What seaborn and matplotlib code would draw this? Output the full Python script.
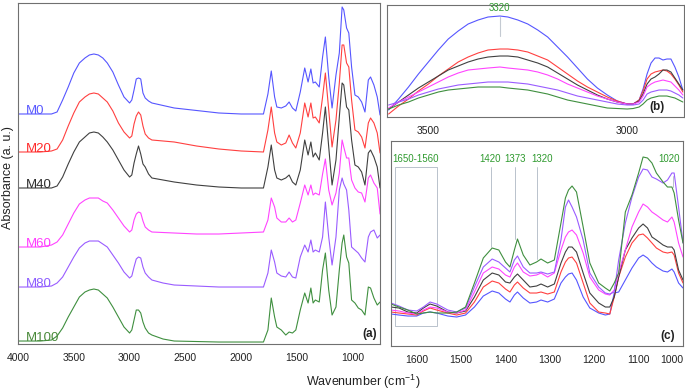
import matplotlib
matplotlib.use("Agg")
import matplotlib.pyplot as plt
from matplotlib.patches import Rectangle
from matplotlib.ticker import MultipleLocator
import pandas as pd
import seaborn as sns

SAMPLES = ["M0", "M20", "M40", "M60", "M80", "M100"]
LINE_COLORS = ["#5656ff", "#ff4040", "#404040", "#ff44ff", "#9a5cff", "#3f8f3f"]
LABEL_COLORS = ["#5a5aff", "#ff2a2a", "#2e2e2e", "#ff3cff", "#8d5cff", "#4a8a3a"]
NOTE_GREEN = "#2f9a2f"
GUIDE_GRAY = "#aeb8c4"

# ---- panel (a): stacked full spectra ----
WN_A = [4000, 3800, 3700, 3650, 3600, 3550, 3500, 3450, 3400, 3360,
        3320, 3280, 3240, 3200, 3150, 3100, 3050, 3000, 2980, 2960,
        2940, 2920, 2900, 2880, 2860, 2830, 2800, 2700, 2600, 2400,
        2200, 2000, 1800,
        1760, 1730, 1700, 1680, 1640, 1600, 1570, 1540, 1510, 1470,
        1430, 1400, 1375, 1355, 1335, 1300, 1270, 1245, 1215, 1185,
        1150, 1120, 1095, 1080, 1055, 1035, 1010, 980, 950, 920,
        890, 860, 840, 810, 780, 755]
M0_A = [2.30, 2.30, 2.30, 2.32, 2.44, 2.57, 2.71, 2.81, 2.86, 2.89,
        2.90, 2.89, 2.86, 2.81, 2.72, 2.59, 2.47, 2.41, 2.44, 2.54,
        2.65, 2.66, 2.65, 2.51, 2.46, 2.43, 2.41, 2.385, 2.36, 2.335,
        2.31, 2.30, 2.30,
        2.50, 2.73, 2.47, 2.37, 2.36, 2.38, 2.42, 2.36, 2.33, 2.52,
        2.76, 2.62, 2.75, 2.61, 2.62, 2.57, 2.87, 3.07, 2.67, 2.36,
        2.69, 2.91, 3.37, 3.34, 3.16, 3.11, 2.77, 2.49, 2.47, 2.42,
        2.32, 2.64, 2.67, 2.59, 2.47, 2.29]
M20_A = [1.92, 1.92, 1.93, 1.95, 2.04, 2.18, 2.31, 2.42, 2.47, 2.50,
         2.51, 2.50, 2.46, 2.42, 2.33, 2.21, 2.12, 2.06, 2.08, 2.20,
         2.28, 2.32, 2.29, 2.18, 2.10, 2.06, 2.04, 2.03, 2.02, 1.98,
         1.95, 1.93, 1.92,
         2.14, 2.37, 2.11, 2.02, 1.99, 2.01, 2.09, 2.01, 1.96, 2.11,
         2.41, 2.27, 2.41, 2.26, 2.27, 2.21, 2.47, 2.71, 2.34, 1.97,
         2.24, 2.61, 2.99, 2.99, 2.81, 2.77, 2.44, 2.14, 2.12, 2.07,
         1.96, 2.21, 2.26, 2.21, 2.11, 1.91]
M40_A = [1.56, 1.56, 1.56, 1.58, 1.67, 1.80, 1.92, 2.02, 2.07, 2.11,
         2.12, 2.11, 2.07, 2.02, 1.94, 1.84, 1.74, 1.67, 1.69, 1.81,
         1.90, 1.98, 1.90, 1.80, 1.77, 1.70, 1.66, 1.64, 1.62, 1.59,
         1.57, 1.56, 1.56,
         1.77, 1.99, 1.74, 1.66, 1.64, 1.66, 1.69, 1.62, 1.59, 1.74,
         2.04, 1.89, 2.02, 1.87, 1.91, 1.84, 2.11, 2.37, 1.97, 1.59,
         1.84, 2.27, 2.61, 2.59, 2.37, 2.34, 2.04, 1.79, 1.77, 1.72,
         1.59, 1.91, 1.94, 1.87, 1.77, 1.56]
M60_A = [0.97, 0.97, 0.99, 1.02, 1.09, 1.20, 1.31, 1.40, 1.44, 1.46,
         1.46, 1.46, 1.43, 1.41, 1.34, 1.26, 1.18, 1.12, 1.14, 1.24,
         1.30, 1.32, 1.31, 1.23, 1.17, 1.14, 1.12, 1.115, 1.11, 1.10,
         1.10, 1.11, 1.12,
         1.24, 1.46, 1.37, 1.26, 1.22, 1.22, 1.26, 1.22, 1.24, 1.41,
         1.59, 1.49, 1.59, 1.49, 1.51, 1.49, 1.70, 1.85, 1.54, 1.39,
         1.51, 1.71, 2.04, 1.97, 1.86, 1.86, 1.64, 1.56, 1.52, 1.51,
         1.42, 1.66, 1.69, 1.61, 1.56, 1.30]
M80_A = [0.57, 0.57, 0.58, 0.61, 0.67, 0.77, 0.87, 0.96, 1.01, 1.03,
         1.03, 1.03, 1.00, 0.97, 0.89, 0.81, 0.72, 0.66, 0.68, 0.77,
         0.85, 0.87, 0.86, 0.77, 0.71, 0.67, 0.64, 0.61, 0.59, 0.58,
         0.57, 0.57, 0.57,
         0.71, 0.94, 0.82, 0.71, 0.68, 0.67, 0.72, 0.67, 0.66, 0.87,
         0.99, 0.92, 1.04, 0.92, 0.94, 0.92, 1.07, 1.42, 1.07, 0.79,
         1.07, 1.54, 1.66, 1.60, 1.54, 1.34, 0.97, 0.94, 0.91, 0.86,
         0.82, 1.07, 1.12, 1.14, 1.06, 1.09]
M100_A = [0.03, 0.03, 0.04, 0.08, 0.16, 0.27, 0.37, 0.47, 0.52, 0.54,
          0.55, 0.54, 0.50, 0.46, 0.37, 0.27, 0.17, 0.11, 0.14, 0.24,
          0.34, 0.34, 0.31, 0.22, 0.16, 0.11, 0.09, 0.05, 0.03, 0.025,
          0.02, 0.02, 0.02,
          0.14, 0.46, 0.27, 0.17, 0.14, 0.09, 0.12, 0.11, 0.14, 0.34,
          0.51, 0.41, 0.56, 0.41, 0.44, 0.42, 0.74, 0.91, 0.54, 0.29,
          0.37, 0.74, 1.01, 1.09, 0.87, 0.81, 0.44, 0.41, 0.36, 0.34,
          0.29, 0.57, 0.56, 0.46, 0.39, 0.42]

# ---- panel (b): O-H / C-H stretching region ----
WN_B = [3600, 3575, 3550, 3525, 3500, 3475, 3450, 3425, 3400, 3375,
        3350, 3320, 3300, 3275, 3250, 3225, 3200, 3175, 3150, 3125,
        3100, 3075, 3050, 3025, 3000, 2985, 2970, 2960, 2950, 2940,
        2930, 2920, 2910, 2900, 2890, 2880, 2870, 2860]
M0_B = [0.07, 0.18, 0.30, 0.43, 0.55, 0.67, 0.78, 0.86, 0.93, 0.97,
        1.00, 1.01, 1.00, 0.97, 0.93, 0.87, 0.80, 0.70, 0.60, 0.49,
        0.38, 0.29, 0.22, 0.16, 0.13, 0.13, 0.17, 0.28, 0.43, 0.54,
        0.59, 0.59, 0.57, 0.58, 0.58, 0.50, 0.40, 0.27]
M20_B = [0.03, 0.11, 0.18, 0.26, 0.33, 0.41, 0.48, 0.55, 0.60, 0.64,
         0.67, 0.68, 0.68, 0.67, 0.65, 0.61, 0.57, 0.50, 0.43, 0.36,
         0.30, 0.25, 0.20, 0.16, 0.13, 0.13, 0.17, 0.26, 0.38, 0.43,
         0.45, 0.46, 0.47, 0.46, 0.43, 0.38, 0.32, 0.25]
M40_B = [0.08, 0.15, 0.22, 0.29, 0.35, 0.41, 0.47, 0.51, 0.55, 0.58,
         0.60, 0.61, 0.61, 0.60, 0.57, 0.54, 0.50, 0.44, 0.38, 0.32,
         0.27, 0.22, 0.18, 0.15, 0.13, 0.13, 0.16, 0.23, 0.33, 0.38,
         0.40, 0.43, 0.47, 0.47, 0.45, 0.39, 0.33, 0.27]
M60_B = [0.09, 0.15, 0.20, 0.25, 0.30, 0.35, 0.40, 0.44, 0.47, 0.48,
         0.49, 0.50, 0.49, 0.48, 0.47, 0.45, 0.42, 0.38, 0.33, 0.29,
         0.25, 0.21, 0.18, 0.15, 0.13, 0.13, 0.15, 0.21, 0.30, 0.33,
         0.35, 0.36, 0.37, 0.36, 0.35, 0.31, 0.27, 0.22]
M80_B = [0.12, 0.15, 0.18, 0.22, 0.25, 0.28, 0.30, 0.32, 0.33, 0.34,
         0.35, 0.35, 0.35, 0.34, 0.33, 0.31, 0.29, 0.27, 0.24, 0.21,
         0.19, 0.17, 0.15, 0.13, 0.12, 0.12, 0.13, 0.17, 0.23, 0.25,
         0.26, 0.27, 0.27, 0.27, 0.26, 0.24, 0.22, 0.19]
M100_B = [0.08, 0.12, 0.15, 0.19, 0.22, 0.25, 0.27, 0.28, 0.29, 0.30,
          0.30, 0.30, 0.29, 0.28, 0.27, 0.25, 0.23, 0.20, 0.17, 0.15,
          0.13, 0.11, 0.09, 0.085, 0.08, 0.085, 0.10, 0.13, 0.17, 0.19,
          0.20, 0.21, 0.21, 0.21, 0.20, 0.19, 0.17, 0.15]

# ---- panel (c): fingerprint region ----
WN_C = [1658, 1640, 1620, 1600, 1585, 1570, 1555, 1530, 1510, 1490,
        1470, 1450, 1430, 1415, 1400, 1390, 1380, 1373, 1360, 1345,
        1330, 1320, 1305, 1290, 1275, 1265, 1258, 1250, 1240, 1225,
        1210, 1190, 1175, 1165, 1155, 1145, 1130, 1115, 1100, 1090,
        1080, 1070, 1060, 1045, 1035, 1025, 1020, 1010, 1000]
M0_C = [0.32, 0.31, 0.30, 0.30, 0.33, 0.34, 0.33, 0.30, 0.29, 0.31,
        0.39, 0.50, 0.55, 0.53, 0.47, 0.44, 0.51, 0.54, 0.48, 0.43,
        0.44, 0.46, 0.44, 0.47, 0.63, 0.69, 0.72, 0.73, 0.66, 0.49,
        0.38, 0.33, 0.31, 0.32, 0.53, 0.54, 0.66, 0.78, 0.88, 0.91,
        0.88, 0.83, 0.79, 0.75, 0.74, 0.77, 0.74, 0.63, 0.58]
M20_C = [0.34, 0.33, 0.32, 0.31, 0.35, 0.38, 0.36, 0.33, 0.31, 0.33,
         0.44, 0.59, 0.65, 0.63, 0.57, 0.54, 0.61, 0.64, 0.58, 0.53,
         0.53, 0.54, 0.52, 0.54, 0.74, 0.84, 0.88, 0.89, 0.83, 0.63,
         0.43, 0.34, 0.33, 0.32, 0.49, 0.69, 0.89, 1.03, 1.11, 1.12,
         1.08, 1.03, 0.98, 0.94, 0.93, 0.94, 0.91, 0.73, 0.63]
M40_C = [0.39, 0.38, 0.34, 0.33, 0.38, 0.42, 0.40, 0.34, 0.33, 0.35,
         0.49, 0.66, 0.73, 0.71, 0.64, 0.63, 0.69, 0.72, 0.66, 0.59,
         0.60, 0.62, 0.59, 0.62, 0.83, 0.94, 0.99, 0.99, 0.94, 0.73,
         0.53, 0.43, 0.39, 0.39, 0.49, 0.69, 0.96, 1.08, 1.18, 1.22,
         1.18, 1.09, 1.06, 1.01, 0.99, 0.99, 0.96, 0.76, 0.66]
M60_C = [0.36, 0.35, 0.33, 0.32, 0.36, 0.39, 0.38, 0.34, 0.33, 0.36,
         0.54, 0.73, 0.79, 0.77, 0.71, 0.69, 0.79, 0.83, 0.74, 0.70,
         0.71, 0.73, 0.69, 0.73, 0.96, 1.09, 1.14, 1.16, 1.11, 0.93,
         0.69, 0.56, 0.52, 0.51, 0.56, 0.73, 0.96, 1.19, 1.34, 1.42,
         1.39, 1.34, 1.31, 1.26, 1.24, 1.29, 1.24, 1.03, 0.89]
M80_C = [0.43, 0.40, 0.36, 0.35, 0.39, 0.44, 0.42, 0.36, 0.34, 0.38,
         0.59, 0.79, 0.87, 0.84, 0.78, 0.74, 0.86, 0.90, 0.79, 0.73,
         0.73, 0.74, 0.72, 0.74, 1.06, 1.39, 1.46, 1.39, 1.29, 1.06,
         0.73, 0.59, 0.53, 0.52, 0.54, 0.86, 1.23, 1.49, 1.69, 1.77,
         1.76, 1.69, 1.67, 1.63, 1.66, 1.73, 1.73, 1.39, 1.03]
M100_C = [0.42, 0.39, 0.36, 0.32, 0.33, 0.34, 0.33, 0.33, 0.34, 0.39,
          0.63, 0.88, 0.98, 0.96, 0.84, 0.79, 0.96, 1.07, 0.91, 0.81,
          0.84, 0.87, 0.83, 0.86, 1.23, 1.48, 1.56, 1.60, 1.54, 1.19,
          0.83, 0.63, 0.58, 0.55, 0.63, 0.73, 1.34, 1.51, 1.73, 1.89,
          1.88, 1.83, 1.73, 1.64, 1.59, 1.59, 1.53, 1.26, 1.03]


def long_frame(wn, series):
    parts = [pd.DataFrame({"wn": wn, "absorbance": vals, "sample": name})
             for name, vals in zip(SAMPLES, series)]
    return pd.concat(parts, ignore_index=True)


def draw_spectra(ax, df):
    sns.lineplot(data=df, x="wn", y="absorbance", hue="sample",
                 hue_order=SAMPLES, palette=dict(zip(SAMPLES, LINE_COLORS)),
                 estimator=None, sort=False, lw=0.8, legend=False, ax=ax)
    ax.set_xlabel("")
    ax.set_ylabel("")
    ax.set_yticks([])
    for sp in ax.spines.values():
        sp.set_color("#707070")
        sp.set_linewidth(0.8)
    ax.tick_params(axis="x", which="both", direction="out", colors="#555555",
                   labelcolor="#222222", labelsize=7.5, pad=3, width=0.6)
    ax.tick_params(axis="x", which="major", length=3.5)
    ax.tick_params(axis="x", which="minor", length=2.5)


sns.set_theme(style="white")
plt.rcParams["font.family"] = ["Liberation Sans", "DejaVu Sans"]
plt.rcParams["mathtext.default"] = "regular"

fig = plt.figure(figsize=(6.85, 3.92), dpi=100)
ax_a = fig.add_axes([0.0263, 0.1224, 0.5285, 0.870])
ax_b = fig.add_axes([0.565, 0.7015, 0.4336, 0.2865])
ax_c = fig.add_axes([0.5708, 0.1173, 0.4263, 0.5230])

# panel (a)
series_a = [M0_A, M20_A, M40_A, M60_A, M80_A, M100_A]
draw_spectra(ax_a, long_frame(WN_A, series_a))
ax_a.set_xlim(4000, 755)
ax_a.set_ylim(0, 3.41)
ax_a.xaxis.set_major_locator(MultipleLocator(500))
ax_a.xaxis.set_minor_locator(MultipleLocator(250))
for name, vals, col in zip(SAMPLES, series_a, LABEL_COLORS):
    ax_a.text(3928, vals[0], name, color=col, fontsize=9.5, ha="left",
              va="baseline")
ax_a.text(0.992, 0.012, "(a)", transform=ax_a.transAxes, ha="right",
          va="bottom", fontsize=8.5, fontweight="bold", color="#222222")

# panel (b)
series_b = [M0_B, M20_B, M40_B, M60_B, M80_B, M100_B]
draw_spectra(ax_b, long_frame(WN_B, series_b))
ax_b.set_xlim(3604, 2857)
ax_b.set_ylim(0, 1.123)
ax_b.xaxis.set_major_locator(MultipleLocator(500))
ax_b.xaxis.set_minor_locator(MultipleLocator(250))
ax_b.plot([3320, 3320], [0.81, 1.00], color="#c4cad2", lw=0.8)
ax_b.text(3322, 1.09, "3320", color=NOTE_GREEN, fontsize=7, ha="center",
          va="center")
ax_b.text(0.936, 0.036, "(b)", transform=ax_b.transAxes, ha="right",
          va="bottom", fontsize=8.5, fontweight="bold", color="#222222")

# panel (c)
series_c = [M0_C, M20_C, M40_C, M60_C, M80_C, M100_C]
draw_spectra(ax_c, long_frame(WN_C, series_c))
ax_c.set_xlim(1658, 1000)
ax_c.set_ylim(0, 2.05)
ax_c.xaxis.set_major_locator(MultipleLocator(100))
ax_c.xaxis.set_minor_locator(MultipleLocator(50))
ax_c.add_patch(Rectangle((1555, 0.20), 95, 1.59, fill=False,
                         edgecolor=GUIDE_GRAY, lw=0.6))
for wn_line, y_low, y_high in [(1432, 0.99, 1.79), (1378, 1.07, 1.79),
                               (1330, 0.87, 1.79), (1022, 1.59, 1.70)]:
    ax_c.plot([wn_line, wn_line], [y_low, y_high], color=GUIDE_GRAY, lw=0.6)
for wn_txt, label in [(1602, "1650-1560"), (1434, "1420"), (1378, "1373"),
                      (1317, "1320"), (1031, "1020")]:
    ax_c.text(wn_txt, 1.87, label, color=NOTE_GREEN, fontsize=7, ha="center",
              va="center")
ax_c.text(0.973, 0.02, "(c)", transform=ax_c.transAxes, ha="right",
          va="bottom", fontsize=8.5, fontweight="bold", color="#222222")
fig.canvas.draw()
for t in ax_c.get_xticklabels():
    if t.get_text() == "1000":
        t.set_ha("right")

fig.text(0.53, 0.026, "Wavenumber (cm$^{-1}$)", ha="center", va="center",
         fontsize=9, color="#222222")
fig.text(0.011, 0.546, "Absorbance (a. u.)", rotation=90, ha="center",
         va="center", fontsize=9, color="#222222")

fig.savefig("out.png", dpi=100)
